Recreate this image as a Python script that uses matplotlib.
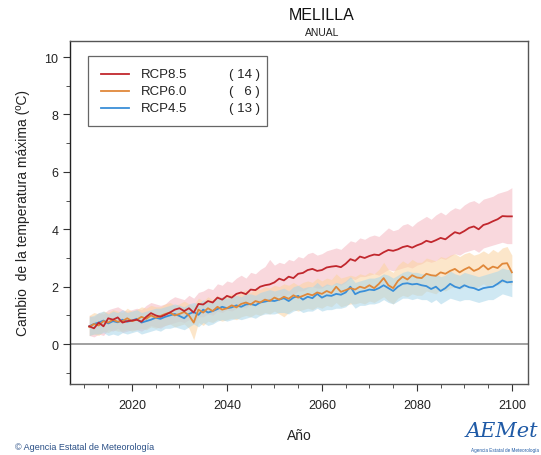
import matplotlib
matplotlib.use("Agg")
import matplotlib.pyplot as plt
import numpy as np

plt.rcParams['font.family'] = ['Liberation Sans', 'DejaVu Sans']

years = list(range(2011, 2101))

rcp85_mean = [0.62, 0.55, 0.75, 0.62, 0.90, 0.85, 0.93, 0.75, 0.80, 0.82,
              0.85, 0.78, 0.95, 1.08, 1.00, 0.95, 1.02, 1.10, 1.20, 1.25,
              1.15, 1.25, 1.10, 1.40, 1.38, 1.50, 1.45, 1.62, 1.55, 1.68,
              1.62, 1.75, 1.80, 1.74, 1.90, 1.88, 2.00, 2.05, 2.08, 2.15,
              2.28, 2.22, 2.35, 2.30, 2.45, 2.48, 2.58, 2.62, 2.55, 2.58,
              2.67, 2.70, 2.72, 2.68, 2.80, 2.96, 2.90, 3.05, 3.00, 3.07,
              3.12, 3.10, 3.20, 3.28, 3.25, 3.30, 3.38, 3.42, 3.36, 3.44,
              3.50, 3.60, 3.55, 3.62, 3.70, 3.65, 3.78, 3.90, 3.85, 3.94,
              4.05, 4.10, 4.00, 4.15, 4.20, 4.28, 4.35, 4.46, 4.45, 4.45]
rcp85_high = [1.00, 0.95, 1.10, 1.05, 1.20, 1.25, 1.30, 1.20, 1.15, 1.20,
              1.25, 1.20, 1.35, 1.45, 1.40, 1.35, 1.40, 1.55, 1.65, 1.60,
              1.55, 1.70, 1.60, 1.80, 1.85, 1.95, 1.90, 2.10, 2.05, 2.20,
              2.15, 2.30, 2.40, 2.30, 2.50, 2.45, 2.60, 2.70, 2.95, 2.75,
              2.85, 2.80, 2.95, 2.90, 3.05, 3.00, 3.15, 3.20, 3.10, 3.15,
              3.25, 3.30, 3.35, 3.30, 3.45, 3.60, 3.55, 3.70, 3.65, 3.75,
              3.80, 3.75, 3.90, 4.05, 3.95, 4.00, 4.15, 4.20, 4.10, 4.25,
              4.35, 4.45, 4.35, 4.50, 4.60, 4.50, 4.65, 4.75, 4.70, 4.85,
              4.95, 5.00, 4.90, 5.05, 5.10, 5.15, 5.25, 5.30, 5.35, 5.45]
rcp85_low = [0.30, 0.25, 0.35, 0.30, 0.50, 0.45, 0.55, 0.40, 0.45, 0.50,
             0.50, 0.45, 0.55, 0.65, 0.60, 0.55, 0.65, 0.70, 0.75, 0.80,
             0.75, 0.85, 0.70, 0.95, 0.95, 1.05, 1.00, 1.15, 1.10, 1.20,
             1.15, 1.25, 1.30, 1.25, 1.40, 1.35, 1.45, 1.50, 1.55, 1.60,
             1.70, 1.65, 1.75, 1.70, 1.85, 1.85, 1.95, 2.00, 1.95, 1.95,
             2.05, 2.05, 2.10, 2.05, 2.15, 2.30, 2.25, 2.35, 2.35, 2.40,
             2.45, 2.40, 2.50, 2.60, 2.55, 2.60, 2.65, 2.70, 2.65, 2.75,
             2.80, 2.90, 2.85, 2.90, 3.00, 2.95, 3.05, 3.15, 3.10, 3.20,
             3.25, 3.30, 3.20, 3.35, 3.40, 3.45, 3.50, 3.55, 3.50, 3.50]

rcp60_mean = [0.60, 0.70, 0.65, 0.80, 0.75, 0.85, 0.78, 0.80, 0.90, 0.80,
              0.85, 0.95, 0.88, 1.00, 0.92, 0.98, 1.05, 1.10, 1.00, 1.05,
              1.12, 1.00, 0.75, 1.20, 1.10, 1.25, 1.15, 1.30, 1.20, 1.25,
              1.35, 1.28, 1.40, 1.45, 1.38, 1.50, 1.45, 1.55, 1.50, 1.62,
              1.55, 1.65, 1.58, 1.70, 1.62, 1.68, 1.75, 1.70, 1.80, 1.75,
              1.85, 1.78, 2.00, 1.82, 1.88, 1.95, 1.90, 2.00, 1.95, 2.05,
              1.95, 2.10, 2.30, 2.05, 1.95, 2.20, 2.35, 2.25, 2.40, 2.32,
              2.30, 2.45, 2.40, 2.38, 2.50, 2.45, 2.55, 2.62, 2.50, 2.60,
              2.68, 2.55, 2.62, 2.75, 2.60, 2.70, 2.65, 2.80, 2.82, 2.50]
rcp60_high = [1.00, 1.10, 1.05, 1.15, 1.10, 1.20, 1.15, 1.10, 1.25, 1.15,
              1.20, 1.30, 1.25, 1.35, 1.30, 1.30, 1.40, 1.45, 1.35, 1.40,
              1.50, 1.40, 1.35, 1.60, 1.50, 1.65, 1.55, 1.70, 1.60, 1.70,
              1.75, 1.70, 1.80, 1.90, 1.80, 1.95, 1.90, 2.00, 1.95, 2.05,
              2.00, 2.10, 2.05, 2.15, 2.05, 2.15, 2.20, 2.15, 2.30, 2.20,
              2.30, 2.25, 2.45, 2.30, 2.35, 2.40, 2.35, 2.45, 2.40, 2.50,
              2.45, 2.60, 2.85, 2.60, 2.50, 2.75, 2.90, 2.80, 2.95, 2.85,
              2.85, 3.00, 2.95, 2.90, 3.05, 3.00, 3.10, 3.15, 3.05, 3.15,
              3.20, 3.10, 3.15, 3.25, 3.15, 3.30, 3.20, 3.35, 3.40, 3.10]
rcp60_low = [0.30, 0.35, 0.30, 0.45, 0.40, 0.50, 0.45, 0.45, 0.50, 0.45,
             0.50, 0.55, 0.50, 0.60, 0.55, 0.60, 0.65, 0.70, 0.60, 0.65,
             0.70, 0.55, 0.15, 0.75, 0.65, 0.80, 0.75, 0.85, 0.80, 0.85,
             0.90, 0.85, 0.95, 1.00, 0.95, 1.05, 1.00, 1.10, 1.05, 1.15,
             1.05, 0.95, 1.10, 1.20, 1.15, 1.20, 1.25, 1.20, 1.30, 1.25,
             1.35, 1.30, 1.45, 1.30, 1.35, 1.40, 1.40, 1.45, 1.40, 1.50,
             1.45, 1.55, 1.65, 1.50, 1.40, 1.60, 1.70, 1.65, 1.75, 1.70,
             1.70, 1.85, 1.80, 1.75, 1.90, 1.85, 1.95, 2.00, 1.90, 2.00,
             2.05, 1.95, 2.00, 2.10, 2.00, 2.10, 2.05, 2.15, 2.20, 2.05]

rcp45_mean = [0.62, 0.70, 0.75, 0.82, 0.72, 0.80, 0.76, 0.85, 0.78, 0.82,
              0.88, 0.75, 0.80, 0.85, 0.92, 0.88, 0.95, 1.00, 1.05, 0.98,
              0.90, 1.05, 1.12, 1.02, 1.20, 1.10, 1.15, 1.22, 1.30, 1.25,
              1.28, 1.35, 1.30, 1.38, 1.40, 1.35, 1.45, 1.48, 1.52, 1.50,
              1.55, 1.60, 1.50, 1.62, 1.68, 1.55, 1.65, 1.60, 1.75, 1.62,
              1.70, 1.68, 1.75, 1.72, 1.80, 2.00, 1.74, 1.82, 1.85, 1.90,
              1.88, 1.95, 2.05, 1.95, 1.85, 2.00, 2.10, 2.12, 2.08, 2.10,
              2.05, 2.02, 1.92, 2.00, 1.85, 1.95, 2.10, 2.00, 1.95, 2.05,
              1.98, 1.95, 1.88, 1.95, 1.98, 2.00, 2.10, 2.22, 2.15, 2.17]
rcp45_high = [0.95, 1.00, 1.10, 1.15, 1.05, 1.15, 1.10, 1.20, 1.10, 1.15,
              1.20, 1.10, 1.15, 1.20, 1.25, 1.25, 1.30, 1.35, 1.40, 1.35,
              1.30, 1.40, 1.45, 1.40, 1.55, 1.45, 1.50, 1.60, 1.65, 1.60,
              1.65, 1.70, 1.65, 1.75, 1.75, 1.70, 1.80, 1.85, 1.90, 1.85,
              1.90, 1.95, 1.85, 2.00, 2.05, 1.95, 2.00, 2.00, 2.15, 2.00,
              2.10, 2.05, 2.15, 2.10, 2.20, 2.35, 2.15, 2.20, 2.25, 2.30,
              2.30, 2.35, 2.45, 2.40, 2.30, 2.40, 2.50, 2.55, 2.50, 2.50,
              2.45, 2.45, 2.40, 2.45, 2.35, 2.40, 2.55, 2.45, 2.40, 2.50,
              2.45, 2.40, 2.35, 2.40, 2.45, 2.50, 2.55, 2.65, 2.60, 2.60]
rcp45_low = [0.30, 0.35, 0.35, 0.40, 0.30, 0.35, 0.30, 0.40, 0.35, 0.40,
             0.45, 0.35, 0.40, 0.45, 0.50, 0.45, 0.55, 0.55, 0.60, 0.55,
             0.50, 0.60, 0.70, 0.60, 0.75, 0.65, 0.70, 0.80, 0.85, 0.80,
             0.85, 0.90, 0.85, 0.90, 0.95, 0.90, 1.00, 1.05, 1.05, 1.05,
             1.10, 1.10, 1.05, 1.15, 1.20, 1.10, 1.15, 1.15, 1.25, 1.15,
             1.20, 1.20, 1.25, 1.25, 1.30, 1.45, 1.25, 1.35, 1.35, 1.40,
             1.40, 1.45, 1.55, 1.45, 1.40, 1.50, 1.60, 1.60, 1.55, 1.60,
             1.55, 1.55, 1.45, 1.55, 1.40, 1.50, 1.60, 1.55, 1.50, 1.55,
             1.55, 1.50, 1.45, 1.50, 1.55, 1.55, 1.65, 1.75, 1.70, 1.65]

scenario_names = ["RCP8.5", "RCP6.0", "RCP4.5"]
model_counts = ["( 14 )", "(   6 )", "( 13 )"]

line_colors = ["#c1272d", "#e0883a", "#3a8fd8"]
band_colors = ["#f5b8c2", "#fbd3a0", "#a9d6ea"]

fig = plt.figure(figsize=(5.41, 4.56), dpi=100)
ax = fig.add_axes([70/541, 1 - 385/456, 458/541, 343/456])

bands = [(rcp85_low, rcp85_high), (rcp60_low, rcp60_high), (rcp45_low, rcp45_high)]
means = [rcp85_mean, rcp60_mean, rcp45_mean]

for (lo, hi), c in zip(bands, band_colors):
    ax.fill_between(years, lo, hi, color=c, alpha=0.55, linewidth=0, zorder=1)

ax.axhline(0, color="#999999", linewidth=1.3, zorder=2)

for m, c in zip(means[::-1], line_colors[::-1]):
    ax.plot(years, m, color=c, linewidth=1.3, zorder=3)

ax.set_xlim(2006.95, 2103.4)
ax.set_ylim(-1.39, 10.56)
ax.set_yticks([0, 2, 4, 6, 8, 10])
ax.set_yticks(np.arange(-1, 11, 1), minor=True)
ax.set_xticks([2020, 2040, 2060, 2080, 2100])
ax.set_xticks(np.arange(2010, 2101, 5), minor=True)
ax.tick_params(axis="both", which="major", labelsize=9, length=5, color="#333333", labelcolor="#222222")
ax.tick_params(axis="both", which="minor", length=3, color="#333333")
ax.tick_params(axis="x", pad=6)
for s in ax.spines.values():
    s.set_color("#555555")
    s.set_linewidth(1.0)
ax.spines["left"].set_color("#222222")

ax.set_xlabel("Año", fontsize=10, color="#222222", labelpad=12)
ax.set_ylabel("Cambio  de la temperatura máxima (ºC)", fontsize=10, color="#222222", labelpad=10)

fig.text(322/541, 1 - 16/456, "MELILLA", ha="center", va="center", fontsize=11.5, color="#111111")
fig.text(322/541, 1 - 33/456, "ANUAL", ha="center", va="center", fontsize=7.5, color="#222222")

# legend
leg_x0, leg_x1 = 88, 267
leg_y0, leg_y1 = 57, 127
fig.patches.append(plt.Rectangle((leg_x0/541, 1 - leg_y1/456), (leg_x1 - leg_x0)/541,
                                 (leg_y1 - leg_y0)/456, transform=fig.transFigure,
                                 fill=False, edgecolor="#666666", linewidth=0.9))
for i, (name, cnt, c) in enumerate(zip(scenario_names, model_counts, line_colors)):
    yy = 1 - (75 + i * 17) / 456
    fig.add_artist(plt.Line2D([101/541, 129/541], [yy, yy], color=c, linewidth=1.3,
                              transform=fig.transFigure))
    fig.text(141/541, yy, name, ha="left", va="center", fontsize=9.5, color="#222222")
    fig.text(260/541, yy, cnt, ha="right", va="center", fontsize=9.5, color="#222222")

fig.text(15/541, 1 - 448/456, "© Agencia Estatal de Meteorología", ha="left", va="center",
         fontsize=6.5, color="#2a4f86")
fig.text(538/541, 1 - 432/456, "AEMet", ha="right", va="center", fontsize=15,
         color="#1f5aa6", style="italic", family="DejaVu Serif")
fig.text(539/541, 1 - 451/456, "Agencia Estatal de Meteorología", ha="right", va="center",
         fontsize=3.3, color="#1f5aa6")

fig.savefig("out.png", dpi=100)
